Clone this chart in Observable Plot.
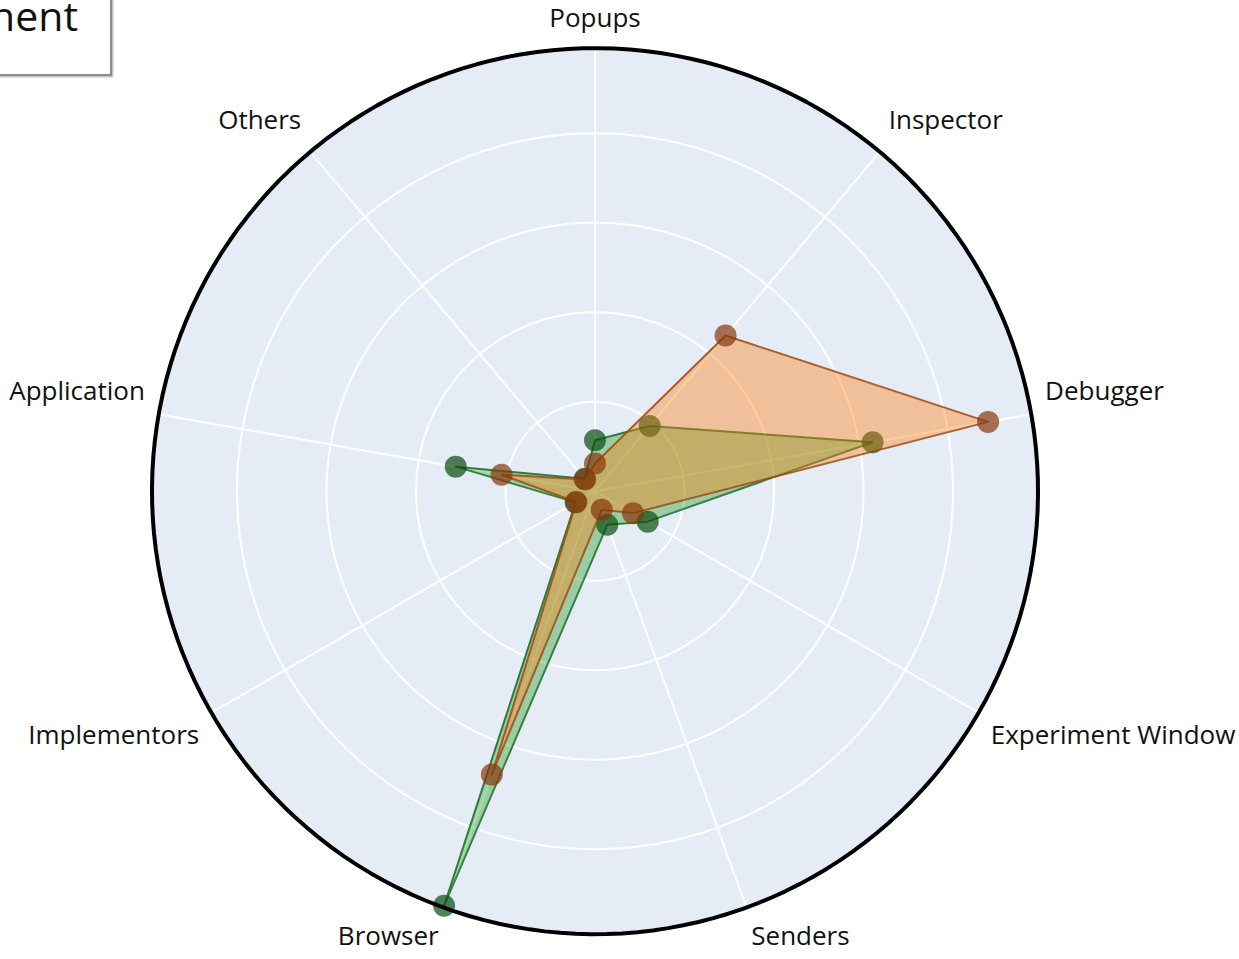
<!DOCTYPE html>
<html>
<head>
<meta charset="utf-8">
<script src="https://cdn.jsdelivr.net/npm/d3@7"></script>
<script src="https://cdn.jsdelivr.net/npm/@observablehq/plot@0.6"></script>
<style>
  html, body { margin: 0; padding: 0; background: #fff; overflow: hidden; }
  #wrap { position: relative; width: 1239px; height: 959px; }
  #chart svg { display: block; }
  #box {
    position: absolute; left: -200px; top: -40px;
    width: 308px; height: 112px;
    border: 2px solid #8c8c8c; background: #fff;
    box-shadow: 1px 1px 2px rgba(0,0,0,0.35);
    font-family: "Open Sans", sans-serif; font-size: 41px; color: #111;
  }
  #box span { position: absolute; right: 32px; top: 33px; line-height: 41px; }
</style>
</head>
<body>
<div id="wrap">
  <div id="chart"></div>
  <div id="box"><span>Component</span></div>
</div>
<script>
// ---- data ----
const categories = ["Popups", "Inspector", "Debugger", "Experiment Window", "Senders", "Browser", "Implementors", "Application", "Others"];
const seriesNames = ["Group 1", "Group 2"];
const greenValues  = [5.7, 9.5, 31.5, 6.8, 4.0, 49.3, 2.5, 15.8, 1.8];
const orangeValues = [3.1, 22.7, 44.6, 4.9, 2.2, 33.7, 2.4, 10.6, 1.7];
const ringTicks = [10, 20, 30, 40];
const radialMax = 49.5;

// ---- derived ----
const lon = i => 180 - i * 40;          // clockwise from the top
const lat = v => 90 - v;
const circle = r => d3.geoCircle().center([0, 90]).radius(r)();
const rows = (vals, s) => categories.map((c, i) => ({series: s, cat: c, i, v: vals[i]}));
const greenRows = rows(greenValues, seriesNames[0]);
const orangeRows = rows(orangeValues, seriesNames[1]);
const labelR = radialMax * 457 / 443;
const labels = categories.map((c, i) => ({cat: c, i}));
const upper = new Set([0, 1, 2, 7, 8]);
const right = new Set([1, 2, 3, 4]);
const left = new Set([5, 6, 7, 8]);

const font = {fontFamily: "Open Sans, sans-serif", fontSize: 26, fill: "#111"};
function labelMark(filter, anchor, dy) {
  return Plot.text(labels.filter(filter), {
    x: d => lon(d.i), y: lat(labelR), text: "cat",
    textAnchor: anchor, dy, ...font
  });
}

function seriesMarks(data, fill, stroke, dot) {
  return [
    Plot.area(data, {x1: d => lon(d.i), y1: d => lat(d.v), x2: 0, y2: 90,
      fill, fillOpacity: 0.4, curve: "linear-closed"}),
    Plot.line(data, {x: d => lon(d.i), y: d => lat(d.v), stroke, strokeWidth: 2,
      strokeOpacity: 0.85, curve: "linear-closed"}),
    Plot.dot(data, {x: d => lon(d.i), y: d => lat(d.v), r: 11, fill: dot, fillOpacity: 0.7, stroke: "none"})
  ];
}

const chart = Plot.plot({
  width: 1239, height: 959,
  marginLeft: 151.5, marginRight: 201.5, marginTop: 47.7, marginBottom: 25.3,
  style: {background: "white", overflow: "visible"},
  projection: {
    type: "azimuthal-equidistant",
    rotate: [0, -90],
    domain: circle(radialMax),
    clip: false
  },
  marks: [
    Plot.geo([radialMax], {geometry: circle, fill: "#E5ECF6", stroke: "none"}),
    Plot.geo(ringTicks, {geometry: circle, fill: "none", stroke: "white", strokeWidth: 2}),
    Plot.link(categories, {x1: (d, i) => lon(i), y1: lat(radialMax), x2: (d, i) => lon(i), y2: 90,
      stroke: "white", strokeWidth: 2}),
    ...seriesMarks(greenRows, "#2ca02c", "#1a6e26", "#094d10"),
    ...seriesMarks(orangeRows, "#ff7f0e", "#9c4a16", "#86380c"),
    Plot.geo([radialMax], {geometry: circle, fill: "none", stroke: "black", strokeWidth: 4}),
    labelMark(d => d.i === 0, "middle", -16),
    labelMark(d => right.has(d.i) && upper.has(d.i), "start", -20),
    labelMark(d => right.has(d.i) && !upper.has(d.i), "start", 16),
    labelMark(d => left.has(d.i) && upper.has(d.i), "end", -20),
    labelMark(d => left.has(d.i) && !upper.has(d.i), "end", 16)
  ]
});
document.getElementById("chart").appendChild(chart);
</script>
</body>
</html>
